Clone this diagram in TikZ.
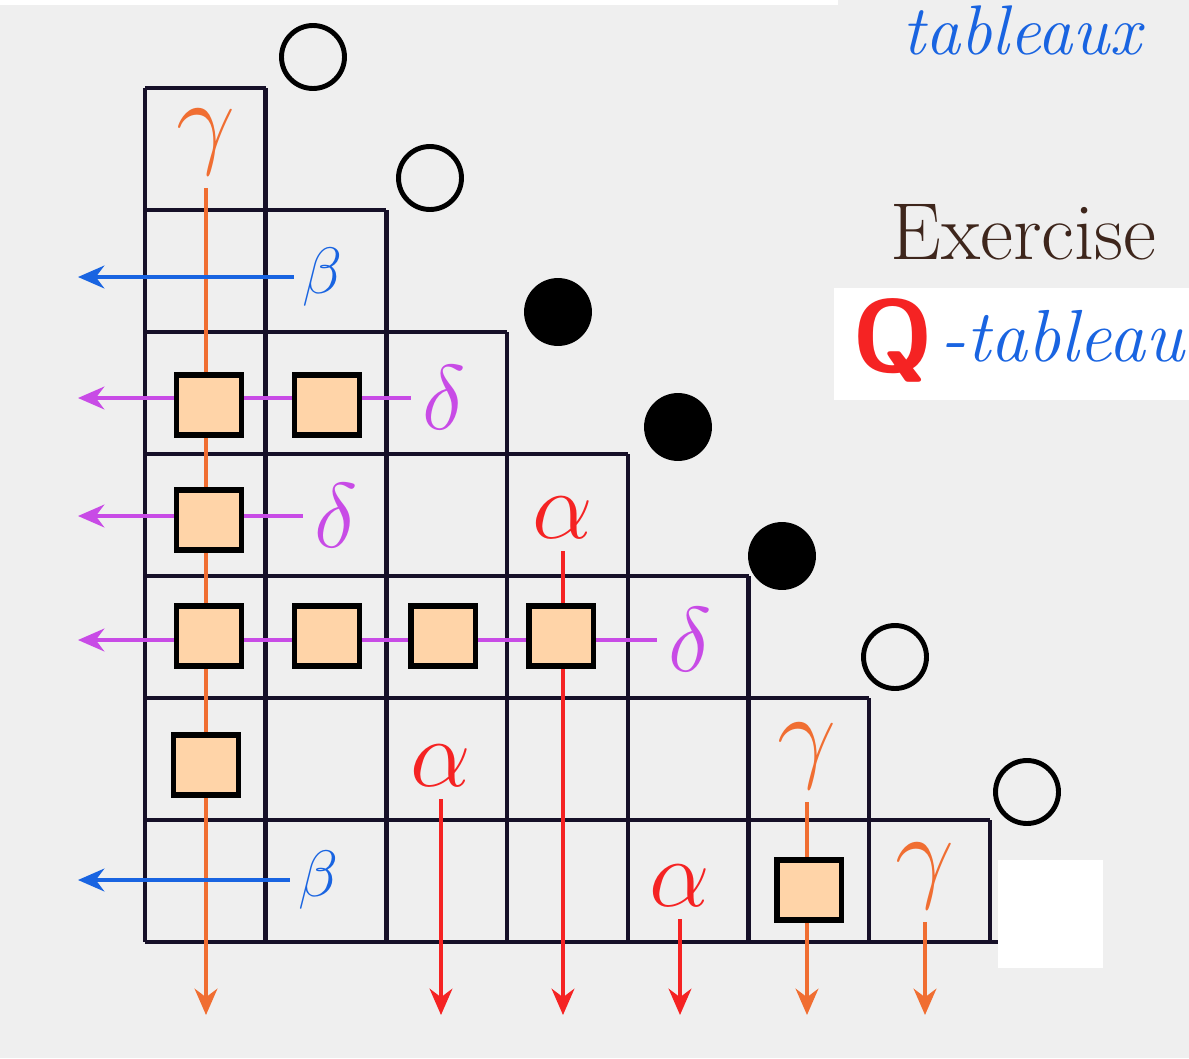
\documentclass[tikz,border=0pt]{standalone}
\usepackage{fontspec}
\usetikzlibrary{arrows.meta}
\definecolor{bgray}{RGB}{239,239,239}
\definecolor{gorange}{RGB}{240,110,50}
\definecolor{bblue}{RGB}{25,100,225}
\definecolor{dpurple}{RGB}{200,75,230}
\definecolor{ared}{RGB}{245,35,35}
\definecolor{sqfill}{RGB}{255,212,168}
\definecolor{exbrown}{RGB}{62,38,28}
\definecolor{ink}{RGB}{22,16,40}

\begin{document}
\begin{tikzpicture}[x=0.02cm, y=-0.02cm, >={Stealth[length=15pt,width=13pt]},
    tabline/.style={line width=2.6pt, ink},
    lane/.style={line width=1.8pt},
    sq/.style={draw, line width=3.4pt, fill=sqfill, minimum width=1.3cm, minimum height=1.2cm, inner sep=0pt},
    pt/.style={circle, draw, line width=2.8pt, minimum size=1.26cm, inner sep=0pt},
    grk/.style={font=\Huge, scale=#1, inner sep=3pt}, grk/.default=2]
    % 1. 背景与页面大小
    \fill[bgray] (0,0) rectangle (1189,1058);
    \useasboundingbox (0,0) rectangle (1189,1058);
    \fill[white] (0,0) rectangle (838,5);
    \coordinate (lft) at (78,0);
    \coordinate (bot) at (0,1015);

    % 2. 阶梯形表格
    \foreach \r in {1,...,7}
        \draw[tabline] (145,{88+(\r-1)*122}) -- ++({\r*120.7},0);
    \draw[tabline] (145,942) -- (998,942);
    \foreach \c in {0,...,7}{
        \pgfmathsetmacro\ytop{88+(max(\c,1)-1)*122}
        \draw[tabline] ({145+\c*120.7},\ytop) -- ({145+\c*120.7},942);
    }

    % 3. 希腊字母
    \node[grk=2.4, gorange] (g1) at (206,142) {$\gamma$};
    \node[grk=1.5, bblue] (b1) at (322,277) {$\beta$};
    \node[grk=2.1, dpurple] (d1) at (444,398) {$\delta$};
    \node[grk=2.1, dpurple] (d2) at (336,516) {$\delta$};
    \node[grk=2.2, ared] (a1) at (563,518) {$\alpha$};
    \node[grk=2.1, dpurple] (d3) at (690,640) {$\delta$};
    \node[grk=2.2, ared] (a2) at (441,766) {$\alpha$};
    \node[grk=2.4, gorange] (g2) at (807,756) {$\gamma$};
    \node[grk=1.5, bblue] (b2) at (318,880) {$\beta$};
    \node[grk=2.2, ared] (a3) at (680,886) {$\alpha$};
    \node[grk=2.4, gorange] (g3) at (925,876) {$\gamma$};

    % 4. 路径箭头
    \foreach \n/\c in {g1/gorange, a1/ared, a2/ared, g2/gorange, a3/ared, g3/gorange}
        \draw[lane, \c, ->] (\n.south) -- (\n.south |- bot);
    \foreach \n/\c in {b1/bblue, d1/dpurple, d2/dpurple, d3/dpurple, b2/bblue}
        \draw[lane, \c, ->] (\n.west) -- (\n.west -| lft);

    % 5. 方块
    \foreach \x/\y [count=\i] in {209/405, 327/405, 209/520, 209/636, 327/636,
                                  443/636, 561/636, 206/765, 809/890}
        \node[sq] (s\i) at (\x,\y) {};

    % 6. 圆点
    \foreach \x/\y/\f [count=\i] in {313/57/none, 430/178/none, 558/312/black,
                                     678/427/black, 782/556/black, 895/657/none, 1027/792/none}
        \node[pt, fill=\f] (c\i) at (\x,\y) {};
    \fill[white] (998,860) rectangle (1103,968);

    % 7. 右上角文字
    \node[anchor=base west, inner sep=0pt, text=bblue, font=\fontsize{40}{40}\selectfont\itshape] (tab) at (902,54) {tableaux};
    \node[anchor=base west, inner sep=0pt, text=exbrown, font=\fontsize{46}{46}\selectfont] (ex) at (890,259) {Exercise};
    \fill[white] (834,288) rectangle (1189,400);
    \node[anchor=base west, inner sep=0pt, text=ared, font=\fontsize{58}{58}\selectfont\sffamily\bfseries] (q) at (852,371) {Q};
    \node[anchor=base west, inner sep=0pt, text=bblue, font=\fontsize{42}{42}\selectfont\itshape] (qt) at (940,361) {-tableau};
\end{tikzpicture}
\end{document}
